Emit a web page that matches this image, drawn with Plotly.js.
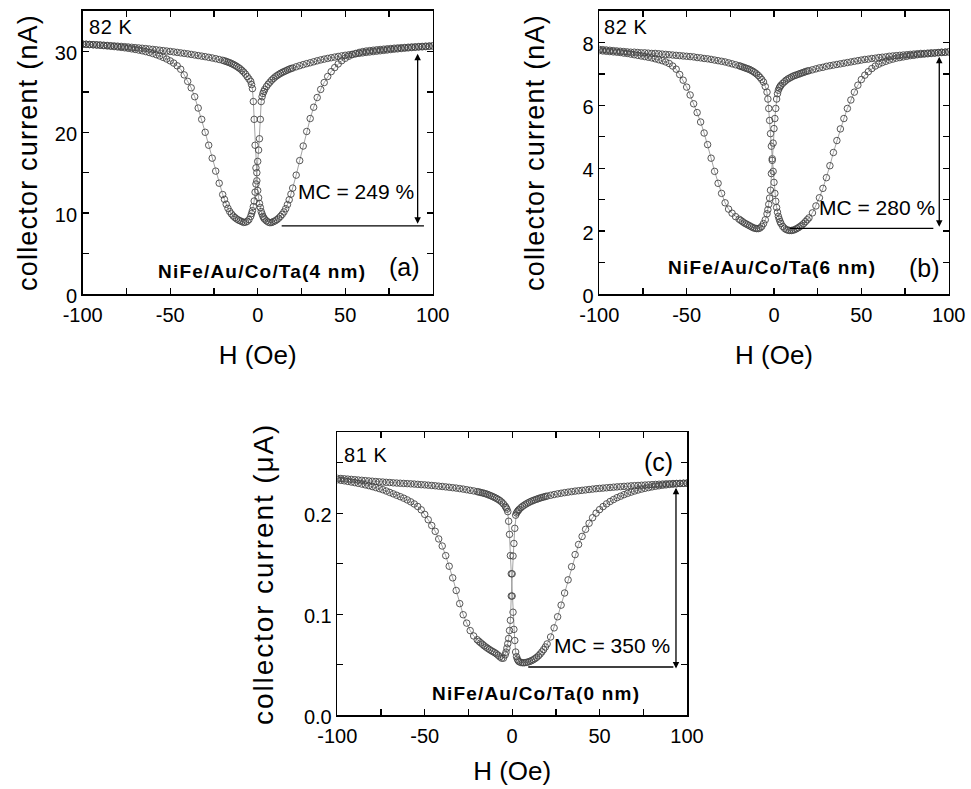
<!DOCTYPE html>
<html>
<head>
<meta charset="utf-8">
<script src="https://cdn.plot.ly/plotly-3.0.1.min.js"></script>
<style>html,body{margin:0;padding:0;background:#fff;}#plot{width:971px;height:789px;}</style>
</head>
<body>
<div id="plot"></div>
<script>
// Field sweep values (Oe), shared by all panels
const H = [-100,-98,-96,-94,-92,-90,-88,-86,-84,-82,-80,-78,-76,-74,-72,-70,-68,-66,-64,-62,-60,-58,-56,-54,-52,-50,-48,-46,-44,-42,-40,-38,-36,-34,-32,-30,-28,-26,-24,-22,
-20,-19,-18,-17,-16,-15,-14,-13,-12,-11,-10,-9,-8,-7,-6,-5,
-4,-3.5,-3,-2.5,-2,-1.5,-1,-0.5,0,0.5,1,1.5,2,2.5,3,3.5,4,
5,6,7,8,9,10,11,12,13,14,15,16,17,18,19,20,
22,24,26,28,30,32,34,36,38,40,42,44,46,48,50,52,54,56,58,60,62,64,66,68,70,72,74,76,78,80,82,84,86,88,90,92,94,96,98,100];

// Panel (a) Ta 4 nm, collector current (nA)
const a_up = [30.9,30.88,30.86,30.84,30.82,30.8,30.77,30.74,30.71,30.68,30.65,30.62,30.59,30.55,30.51,30.47,30.43,30.39,30.35,30.3,30.25,30.2,30.15,30.1,30.05,30.0,29.94,29.88,29.82,29.76,29.7,29.63,29.56,29.49,29.42,29.35,29.27,29.19,29.1,29.0,
28.9,28.83,28.76,28.68,28.6,28.5,28.4,28.28,28.15,28.0,27.85,27.65,27.45,27.2,26.9,26.6,
26.3,25.9,25.4,23.8,21.6,18.4,15.6,14.0,12.8,11.9,11.2,10.7,10.2,9.9,9.6,9.4,9.25,
9.05,8.9,8.82,8.85,8.95,9.05,9.2,9.38,9.6,9.85,10.15,10.55,11.05,11.65,12.35,13.1,
14.7,16.5,18.3,20.1,21.7,23.1,24.3,25.3,26.15,26.9,27.5,28.0,28.45,28.85,29.15,29.4,29.6,29.75,29.88,29.98,30.05,30.1,30.15,30.2,30.24,30.28,30.32,30.36,30.4,30.43,30.46,30.49,30.52,30.55,30.57,30.6,30.62,30.65,30.67,30.7];
const a_down = [30.9,30.88,30.85,30.82,30.79,30.76,30.72,30.68,30.64,30.6,30.55,30.5,30.45,30.39,30.32,30.25,30.17,30.08,29.98,29.87,29.74,29.6,29.44,29.26,29.06,28.83,28.56,28.22,27.8,27.1,26.3,25.5,24.4,23.0,21.6,20.0,18.4,16.8,15.2,13.7,
12.3,11.7,11.1,10.6,10.2,9.9,9.65,9.45,9.28,9.15,9.05,8.95,8.85,8.88,8.98,9.2,
9.6,9.95,10.3,10.8,11.5,12.6,13.6,15.0,16.4,17.8,19.2,21.6,23.8,24.4,24.8,25.05,25.3,
25.65,25.95,26.2,26.45,26.65,26.85,27.0,27.15,27.28,27.4,27.5,27.6,27.7,27.8,27.88,27.95,
28.1,28.24,28.37,28.49,28.6,28.72,28.84,28.95,29.05,29.14,29.22,29.3,29.38,29.45,29.52,29.58,29.64,29.7,29.76,29.82,29.88,29.93,29.98,30.03,30.08,30.13,30.18,30.23,30.28,30.32,30.36,30.4,30.44,30.48,30.51,30.54,30.57,30.6,30.63,30.66];

// Panel (b) Ta 6 nm, collector current (nA)
const b_up = [7.78,7.77,7.76,7.75,7.74,7.73,7.72,7.71,7.7,7.69,7.69,7.68,7.67,7.67,7.66,7.65,7.65,7.64,7.63,7.62,7.61,7.6,7.59,7.58,7.57,7.56,7.55,7.54,7.52,7.51,7.49,7.48,7.46,7.44,7.42,7.4,7.38,7.35,7.32,7.29,
7.26,7.24,7.22,7.2,7.18,7.16,7.14,7.11,7.08,7.04,7.0,6.95,6.89,6.82,6.74,6.6,
6.42,6.2,5.9,5.52,5.1,4.7,4.3,3.9,3.55,3.2,2.95,2.75,2.6,2.47,2.38,2.3,2.24,
2.15,2.09,2.05,2.03,2.02,2.02,2.03,2.05,2.08,2.11,2.15,2.19,2.24,2.3,2.36,2.42,
2.58,2.8,3.06,3.36,3.7,4.08,4.5,4.88,5.25,5.58,5.9,6.17,6.42,6.64,6.82,6.96,7.07,7.17,7.25,7.31,7.36,7.4,7.44,7.47,7.5,7.52,7.54,7.56,7.58,7.59,7.61,7.62,7.63,7.64,7.65,7.66,7.67,7.68,7.69,7.7];
const b_down = [7.74,7.73,7.72,7.71,7.7,7.69,7.68,7.66,7.65,7.63,7.61,7.59,7.57,7.55,7.53,7.51,7.48,7.45,7.42,7.38,7.33,7.25,7.15,6.98,6.8,6.58,6.33,6.05,5.77,5.47,5.12,4.75,4.32,3.9,3.52,3.2,2.9,2.7,2.57,2.46,
2.38,2.34,2.3,2.26,2.23,2.2,2.17,2.14,2.11,2.09,2.08,2.08,2.1,2.15,2.24,2.36,
2.55,2.68,2.85,3.05,3.3,3.83,4.25,4.8,5.26,5.58,5.9,6.2,6.37,6.48,6.55,6.6,6.64,
6.7,6.75,6.8,6.84,6.87,6.9,6.93,6.95,6.97,6.99,7.01,7.03,7.05,7.07,7.09,7.1,
7.13,7.16,7.19,7.21,7.24,7.26,7.28,7.3,7.32,7.34,7.36,7.38,7.4,7.42,7.44,7.46,7.47,7.49,7.5,7.52,7.53,7.54,7.56,7.57,7.58,7.59,7.6,7.61,7.62,7.63,7.64,7.65,7.65,7.66,7.67,7.67,7.68,7.69,7.69,7.7];

// Panel (c) Ta 0 nm, collector current (µA)
const c_up = [0.2345,0.2343,0.234,0.2337,0.2334,0.2331,0.2328,0.2325,0.2322,0.2319,0.2316,0.2313,0.231,0.2308,0.2305,0.2303,0.23,0.2298,0.2296,0.2294,0.2292,0.229,0.2288,0.2285,0.2282,0.228,0.2277,0.2274,0.2271,0.2267,0.2264,0.226,0.2256,0.2252,0.2248,0.2243,0.2238,0.2232,0.2226,0.222,
0.2213,0.2209,0.2205,0.2201,0.2196,0.2191,0.2185,0.2178,0.2171,0.2163,0.2155,0.2146,0.2136,0.2124,0.211,0.2092,
0.207,0.2055,0.204,0.2015,0.192,0.179,0.158,0.14,0.118,0.102,0.085,0.074,0.0626,0.058,0.0555,0.054,0.053,
0.0522,0.052,0.052,0.0523,0.0527,0.0533,0.054,0.0549,0.056,0.0573,0.0588,0.0606,0.0627,0.065,0.0676,0.0706,
0.0775,0.0865,0.0975,0.109,0.121,0.134,0.147,0.159,0.169,0.177,0.184,0.19,0.1955,0.2,0.2035,0.2065,0.2092,0.2115,0.2135,0.2153,0.2168,0.2183,0.2196,0.2208,0.2219,0.2229,0.2238,0.2246,0.2253,0.226,0.2266,0.2271,0.2276,0.228,0.2284,0.2287,0.229,0.2293,0.2295,0.2297];
const c_down = [0.233,0.2325,0.232,0.2314,0.2308,0.2302,0.2295,0.2288,0.228,0.2272,0.2263,0.2253,0.2243,0.2232,0.2219,0.2205,0.2191,0.2177,0.2163,0.2148,0.2131,0.2112,0.2091,0.2066,0.2033,0.1988,0.1935,0.1878,0.182,0.1745,0.1675,0.158,0.1475,0.136,0.1235,0.1105,0.0995,0.0912,0.0838,0.0785,
0.0748,0.0732,0.0717,0.0703,0.0688,0.0675,0.0663,0.0651,0.064,0.063,0.062,0.0608,0.0594,0.0578,0.0565,0.0565,
0.0598,0.0625,0.0665,0.0708,0.076,0.0839,0.094,0.118,0.14,0.1576,0.17,0.185,0.198,0.2002,0.2015,0.2027,0.2037,
0.2054,0.2068,0.208,0.2091,0.2101,0.211,0.2118,0.2125,0.2132,0.2138,0.2144,0.215,0.2155,0.216,0.2165,0.2169,
0.2177,0.2184,0.2191,0.2197,0.2203,0.2208,0.2213,0.2218,0.2222,0.2226,0.223,0.2234,0.2238,0.2242,0.2245,0.2248,0.2251,0.2254,0.2257,0.226,0.2262,0.2265,0.2267,0.227,0.2272,0.2274,0.2276,0.2278,0.228,0.2282,0.2284,0.2286,0.2288,0.229,0.2291,0.2293,0.2294,0.2295,0.2296,0.2297];

// Tick labels
const xTickVals = [-100,-50,0,50,100];
const xTickText = ['-100','-50','0','50','100'];
const aTickVals = [0,10,20,30], aTickText = ['0','10','20','30'];
const bTickVals = [0,2,4,6,8], bTickText = ['0','2','4','6','8'];
const cTickVals = [0,0.1,0.2], cTickText = ['0.0','0.1','0.2'];

// Panel annotations (text + MC arrow/line in data units)
const panels = [
  {id:'a', temp:'82 K', sample:'NiFe/Au/Co/Ta(4 nm)', mc:'MC = 249 %', arrowH:91.4, arrowLo:8.7, arrowHi:29.9, lineH0:13.7, lineH1:95, lineI:8.43},
  {id:'b', temp:'82 K', sample:'NiFe/Au/Co/Ta(6 nm)', mc:'MC = 280 %', arrowH:94.6, arrowLo:2.14, arrowHi:7.59, lineH0:9.0, lineH1:91.2, lineI:2.09},
  {id:'c', temp:'81 K', sample:'NiFe/Au/Co/Ta(0 nm)', mc:'MC = 350 %', arrowH:93.7, arrowLo:0.0462, arrowHi:0.2265, lineH0:9.2, lineH1:92.2, lineI:0.0478}
];

const W = 971, Hh = 789;
const px = v => v / W, py = v => 1 - v / Hh;
const FONT = 'Liberation Sans, Arial, Helvetica, sans-serif';
const spaced = (s, ls) => '<span style="letter-spacing:' + ls + 'px">' + s + '</span>';

function series(y, xa, ya) {
  return {x: H, y: y, xaxis: xa, yaxis: ya, type: 'scatter', mode: 'lines+markers',
    line: {color: '#8c8c8c', width: 0.8},
    marker: {symbol: 'circle-open', size: 6.5, color: '#444', line: {width: 0.9, color: '#444'}},
    showlegend: false, hoverinfo: 'skip'};
}

const data = [
  series(a_up, 'x', 'y'), series(a_down, 'x', 'y'),
  series(b_up, 'x2', 'y2'), series(b_down, 'x2', 'y2'),
  series(c_up, 'x3', 'y3'), series(c_down, 'x3', 'y3')
];

function xaxis(domain, anchor, standoff) {
  return {domain: domain, anchor: anchor, range: [-100, 100],
    tickmode: 'array', tickvals: xTickVals, ticktext: xTickText,
    ticks: 'inside', ticklen: 6, tickwidth: 1.3, tickcolor: '#000', ticklabelstandoff: 2,
    minor: {ticks: 'inside', dtick: 25, tick0: 0, ticklen: 6, tickwidth: 1.3, tickcolor: '#000'},
    showline: true, linecolor: '#000', linewidth: 1.6, mirror: 'allticks',
    showgrid: false, zeroline: false,
    tickfont: {family: FONT, size: 20, color: '#000'},
    title: {text: 'H (Oe)', font: {family: FONT, size: 26, color: '#000'}, standoff: standoff}};
}
function yaxis(domain, anchor, range, tv, tt, minorD, title, size, ls, standoff) {
  return {domain: domain, anchor: anchor, range: range,
    tickmode: 'array', tickvals: tv, ticktext: tt,
    ticks: 'inside', ticklen: 6, tickwidth: 1.3, tickcolor: '#000', ticklabelshift: 2,
    minor: {ticks: 'inside', dtick: minorD, tick0: 0, ticklen: 6, tickwidth: 1.3, tickcolor: '#000'},
    showline: true, linecolor: '#000', linewidth: 1.6, mirror: 'allticks',
    showgrid: false, zeroline: false,
    tickfont: {family: FONT, size: 20, color: '#000'},
    title: {text: spaced(title, ls), font: {family: FONT, size: size, color: '#000'}, standoff: standoff}};
}

const dom = {
  a: {x: [px(82.7), px(432.7)], y: [py(294), py(11)]},
  b: {x: [px(599.3), px(948.7)], y: [py(294), py(11)]},
  c: {x: [px(337.3), px(687)], y: [py(715.3), py(432.3)]}
};

const annotations = [];
const shapes = [];
const textPos = {
  a: {temp: [87, 27], tag: [404, 267], sample: [262, 271], mc: [296, 191]},
  b: {temp: [602, 27], tag: [924, 268], sample: [772, 267], mc: [817, 208]},
  c: {temp: [342, 455], tag: [658, 462], sample: [536, 693], mc: [552, 645]}
};
const axRef = {a: ['x', 'y'], b: ['x2', 'y2'], c: ['x3', 'y3']};
panels.forEach(p => {
  const t = textPos[p.id];
  const [xr, yr] = axRef[p.id];
  annotations.push({xref: 'paper', yref: 'paper', x: px(t.temp[0]), y: py(t.temp[1]), xanchor: 'left', yanchor: 'middle',
    text: spaced(p.temp, 0.6), showarrow: false, font: {family: FONT, size: 20, color: '#000'}});
  annotations.push({xref: 'paper', yref: 'paper', x: px(t.tag[0]), y: py(t.tag[1]), xanchor: 'center', yanchor: 'middle',
    text: '(' + p.id + ')', showarrow: false, font: {family: FONT, size: 25, color: '#000'}});
  annotations.push({xref: 'paper', yref: 'paper', x: px(t.sample[0]), y: py(t.sample[1]), xanchor: 'center', yanchor: 'middle',
    text: '<b>' + spaced(p.sample, 1.2) + '</b>', showarrow: false, font: {family: FONT, size: 19, color: '#000'}});
  annotations.push({xref: 'paper', yref: 'paper', x: px(t.mc[0]), y: py(t.mc[1]), xanchor: 'left', yanchor: 'middle',
    text: p.mc, showarrow: false, font: {family: FONT, size: 21, color: '#000'}});
  annotations.push({xref: xr, yref: yr, x: p.arrowH, y: p.arrowLo, axref: xr, ayref: yr, ax: p.arrowH, ay: p.arrowHi,
    text: '', showarrow: true, arrowhead: 2, arrowside: 'end+start', arrowsize: 1, arrowwidth: 1.3, arrowcolor: '#000',
    standoff: 0, startstandoff: 0});
  shapes.push({type: 'line', xref: xr, yref: yr, x0: p.lineH0, x1: p.lineH1, y0: p.lineI, y1: p.lineI,
    line: {color: '#000', width: 1.3}});
});

const layout = {
  width: W, height: Hh, margin: {l: 0, r: 0, t: 0, b: 0},
  paper_bgcolor: '#fff', plot_bgcolor: '#fff', showlegend: false,
  font: {family: FONT, color: '#000'},
  xaxis: xaxis(dom.a.x, 'y', 21),
  yaxis: yaxis(dom.a.y, 'x', [0, 35], aTickVals, aTickText, 5, 'collector current (nA)', 27, 1.2, 9),
  xaxis2: xaxis(dom.b.x, 'y2', 21),
  yaxis2: yaxis(dom.b.y, 'x2', [0, 9], bTickVals, bTickText, 1, 'collector current (nA)', 27, 1.2, 30),
  xaxis3: xaxis(dom.c.x, 'y3', 16),
  yaxis3: yaxis(dom.c.y, 'x3', [0, 0.28], cTickVals, cTickText, 0.05, 'collector current (μA)', 28, 1.9, 22),
  annotations: annotations, shapes: shapes
};

Plotly.newPlot('plot', data, layout, {staticPlot: true, displayModeBar: false});
</script>
</body>
</html>
